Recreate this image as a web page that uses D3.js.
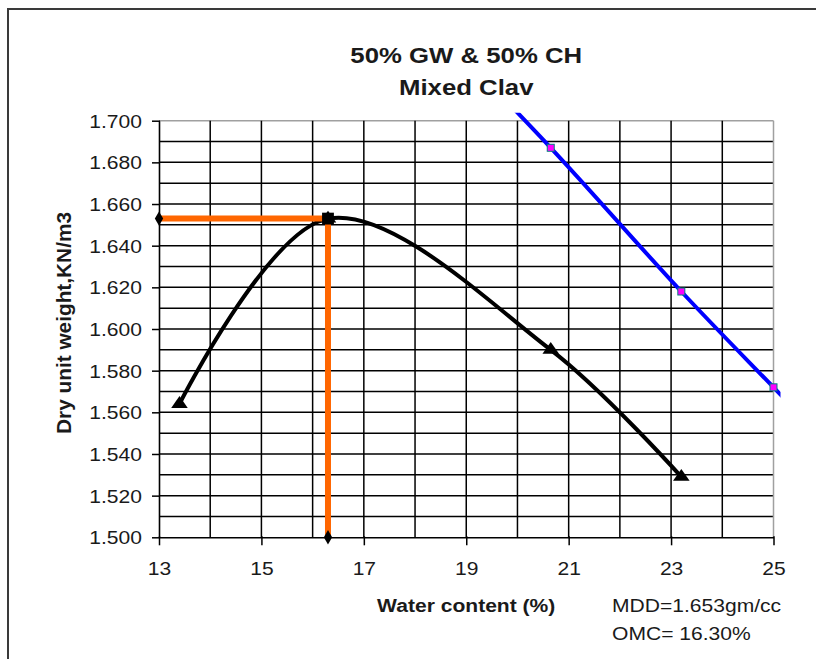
<!DOCTYPE html>
<html>
<head>
<meta charset="utf-8">
<script src="https://cdn.jsdelivr.net/npm/d3@7"></script>
<style>
  body { margin: 0; background: #fff; }
  text { font-family: "Liberation Sans", Arial, sans-serif; fill: #1a1a1a; }
</style>
</head>
<body>
<script>
/* ====== data ====== */
// compaction curve (triangles)
var curveX = [13.4, 16.3, 20.65, 23.2];
var curveY = [1.564, 1.653, 1.590, 1.529];
// zero air voids line (blue), first and last points lie outside the plot
var zavX = [18.5, 20.65, 23.2, 25.0, 26.5];
var zavY = [1.742, 1.687, 1.618, 1.572, 1.534];
// MDD / OMC guide (orange)
var guideX = [13, 16.3, 16.3];
var guideY = [1.653, 1.653, 1.500];
// axes
var xTicks = [13, 15, 17, 19, 21, 23, 25];
var xGrid = [13, 14, 15, 16, 17, 18, 19, 20, 21, 22, 23, 24, 25];
var yTicks = [1.500, 1.520, 1.540, 1.560, 1.580, 1.600, 1.620, 1.640, 1.660, 1.680, 1.700];
var yGrid = d3.range(0, 21).map(function (i) { return +(1.5 + i * 0.01).toFixed(3); });
var titleLines = ["50% GW & 50% CH", "Mixed Clav"];
var notes = ["MDD=1.653gm/cc", "OMC= 16.30%"];

/* ====== layout ====== */
var w = 816, h = 659;
var plotL = 159, plotR = 773.5, plotT = 120.7, plotB = 537.3;
var stretch = 1.17;   // the picture text is a bit wider than normal

var svg = d3.select("body").append("svg")
    .attr("width", w)
    .attr("height", h);

var xScale = d3.scaleLinear().domain([13, 25]).range([plotL, plotR]);
var yScale = d3.scaleLinear().domain([1.5, 1.7]).range([plotB, plotT]);

// stretch text horizontally like the reference
function widen(sel) {
    sel.each(function () {
        var len = this.getComputedTextLength();
        d3.select(this)
            .attr("textLength", len * stretch)
            .attr("lengthAdjust", "spacingAndGlyphs");
    });
}

// outer frame
svg.append("rect")
    .attr("x", 8).attr("y", 9)
    .attr("width", 830).attr("height", 680)
    .attr("fill", "none")
    .attr("stroke", "#3a3a3a")
    .attr("stroke-width", 2);

/* ====== grid ====== */
svg.append("g").selectAll("line")
    .data(yGrid.slice(1))
    .enter().append("line")
    .attr("x1", plotL).attr("x2", plotR)
    .attr("y1", function (d) { return yScale(d); })
    .attr("y2", function (d) { return yScale(d); })
    .attr("stroke", function (d) { return d === 1.7 ? "#a0a0a0" : "#000"; })
    .attr("stroke-width", 1.5);

svg.append("g").selectAll("line")
    .data(xGrid.slice(1))
    .enter().append("line")
    .attr("y1", plotT).attr("y2", plotB)
    .attr("x1", function (d) { return xScale(d); })
    .attr("x2", function (d) { return xScale(d); })
    .attr("stroke", function (d) { return d === 25 ? "#a0a0a0" : "#000"; })
    .attr("stroke-width", 1.5);

/* ====== axes ====== */
var yAxis = svg.append("g")
    .attr("transform", "translate(" + plotL + ",0)")
    .call(d3.axisLeft(yScale)
        .tickValues(yTicks)
        .tickFormat(d3.format(".3f"))
        .tickSizeInner(7)
        .tickSizeOuter(0)
        .tickPadding(10));
yAxis.select(".domain").attr("stroke", "#000").attr("stroke-width", 1.6);
yAxis.selectAll(".tick line").attr("stroke", "#000").attr("stroke-width", 1.5).attr("x2", -7).attr("x1", 1);
yAxis.selectAll(".tick text")
    .attr("font-family", "Liberation Sans, Arial, sans-serif")
    .attr("font-size", 18)
    .attr("fill", "#2a2a2a")
    .attr("dy", "0.36em")
    .call(widen);

var xAxis = svg.append("g")
    .attr("transform", "translate(0," + plotB + ")")
    .call(d3.axisBottom(xScale)
        .tickValues(xTicks)
        .tickSizeInner(8)
        .tickSizeOuter(0)
        .tickPadding(17));
xAxis.select(".domain").attr("stroke", "#000").attr("stroke-width", 1.6);
xAxis.selectAll(".tick line").attr("stroke", "#000").attr("stroke-width", 1.5).attr("y1", -1);
xAxis.selectAll(".tick text")
    .attr("font-family", "Liberation Sans, Arial, sans-serif")
    .attr("font-size", 18)
    .attr("fill", "#2a2a2a")
    .call(widen);

/* ====== series ====== */
svg.append("defs").append("clipPath")
    .attr("id", "clip")
    .append("rect")
    .attr("x", plotL).attr("y", plotT - 8)
    .attr("width", plotR - plotL + 7)
    .attr("height", plotB - plotT + 8);

var zavPts = zavX.map(function (x, i) { return [x, zavY[i]]; });
var curvePts = curveX.map(function (x, i) { return [x, curveY[i]]; });
var guidePts = guideX.map(function (x, i) { return [x, guideY[i]]; });

var smooth = d3.line()
    .x(function (d) { return xScale(d[0]); })
    .y(function (d) { return yScale(d[1]); })
    .curve(d3.curveCatmullRom.alpha(0.5));
var straight = d3.line()
    .x(function (d) { return xScale(d[0]); })
    .y(function (d) { return yScale(d[1]); });

// zero air voids line
svg.append("path")
    .datum(zavPts)
    .attr("clip-path", "url(#clip)")
    .attr("fill", "none")
    .attr("stroke", "#0000ff")
    .attr("stroke-width", 4)
    .attr("d", smooth);
svg.append("g").selectAll("rect")
    .data(zavPts.filter(function (d) { return d[0] >= 13 && d[0] <= 25 && d[1] <= 1.7; }))
    .enter().append("rect")
    .attr("x", function (d) { return xScale(d[0]) - 3.5; })
    .attr("y", function (d) { return yScale(d[1]) - 3.5; })
    .attr("width", 7).attr("height", 7)
    .attr("fill", "#ff00ff")
    .attr("stroke", "#008080")
    .attr("stroke-width", 1);

// compaction curve
svg.append("path")
    .datum(curvePts)
    .attr("fill", "none")
    .attr("stroke", "#000")
    .attr("stroke-width", 4)
    .attr("d", smooth);
svg.append("g").selectAll("path")
    .data(curvePts)
    .enter().append("path")
    .attr("transform", function (d) { return "translate(" + xScale(d[0]) + "," + yScale(d[1]) + ") scale(1.15,0.95)"; })
    .attr("d", d3.symbol().type(d3.symbolTriangle).size(90))
    .attr("fill", "#000");

// MDD / OMC guide
svg.append("path")
    .datum(guidePts)
    .attr("fill", "none")
    .attr("stroke", "#ff6600")
    .attr("stroke-width", 6)
    .attr("d", straight);
svg.append("g").selectAll("path")
    .data(guidePts)
    .enter().append("path")
    .attr("transform", function (d) { return "translate(" + xScale(d[0]) + "," + yScale(d[1]) + ")"; })
    .attr("d", function (d, i) {
        return d3.symbol().type(i === 1 ? d3.symbolSquare : d3.symbolDiamond).size(i === 1 ? 140 : 60)();
    })
    .attr("fill", "#000");

/* ====== text ====== */
var cx = (plotL + plotR) / 2;
svg.append("g").selectAll("text")
    .data(titleLines)
    .enter().append("text")
    .attr("x", cx)
    .attr("y", function (d, i) { return 63 + i * 32; })
    .attr("text-anchor", "middle")
    .attr("font-size", 22)
    .attr("font-weight", "bold")
    .text(function (d) { return d; })
    .call(widen);

svg.append("text")
    .attr("x", cx)
    .attr("y", 612)
    .attr("text-anchor", "middle")
    .attr("font-size", 18)
    .attr("font-weight", "bold")
    .text("Water content (%)")
    .call(widen);

svg.append("text")
    .attr("transform", "translate(71," + ((plotT + plotB) / 2 - 6) + ") scale(" + stretch + ",1) rotate(-90)")
    .attr("text-anchor", "middle")
    .attr("font-size", 18)
    .attr("font-weight", "bold")
    .attr("textLength", 222)
    .attr("lengthAdjust", "spacingAndGlyphs")
    .text("Dry unit weight,KN/m3");

svg.append("g").selectAll("text")
    .data(notes)
    .enter().append("text")
    .attr("x", 612)
    .attr("y", function (d, i) { return 612 + i * 28; })
    .attr("font-size", 18)
    .text(function (d) { return d; })
    .call(widen);
</script>
</body>
</html>
